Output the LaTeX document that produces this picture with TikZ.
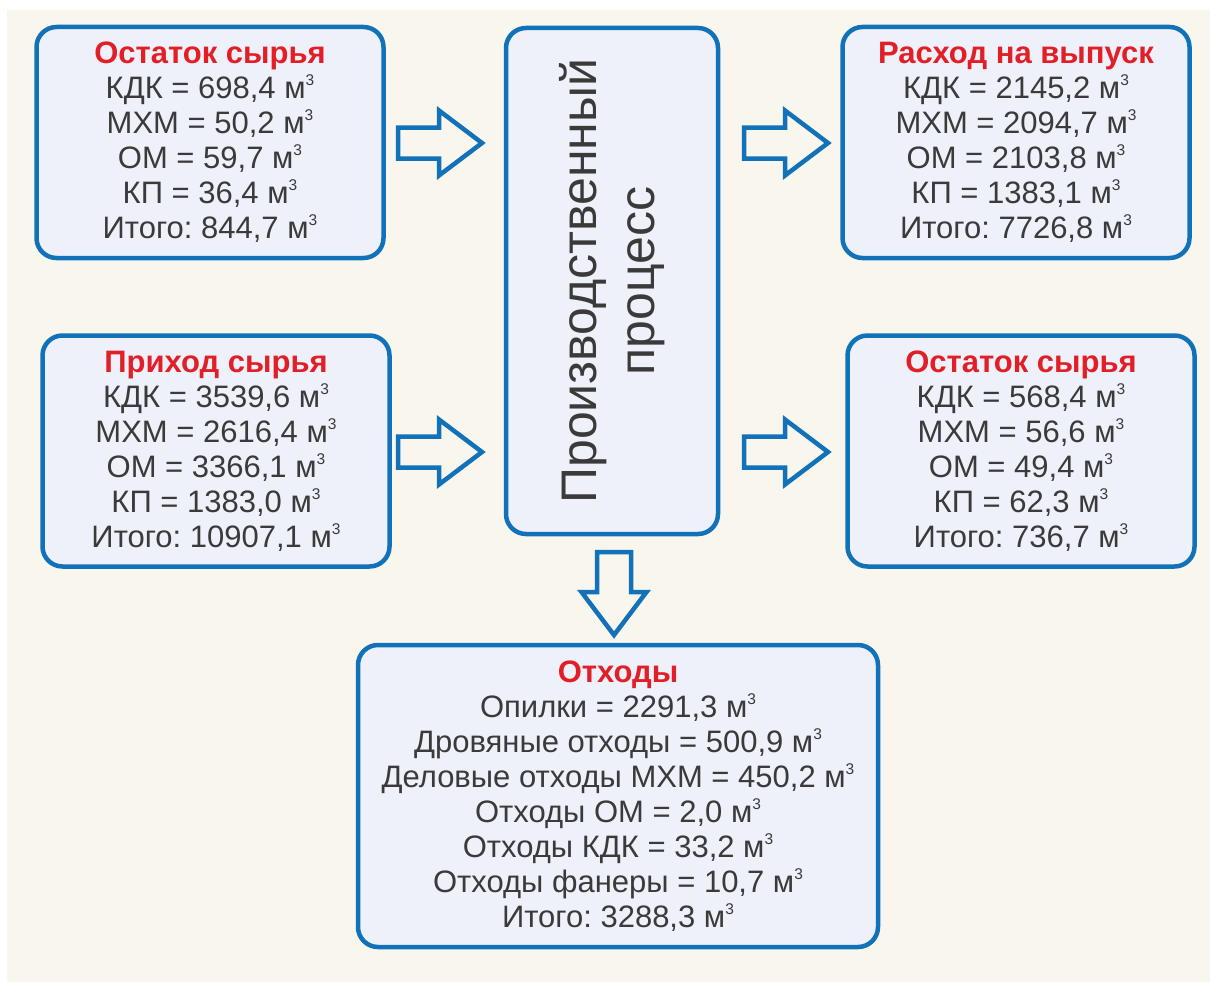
\documentclass[tikz,border=0pt]{standalone}
\usepackage{fontspec}
\setmainfont{Liberation Sans}
\definecolor{bgc}{RGB}{249,246,237}
\definecolor{boxfill}{RGB}{238,241,250}
\definecolor{myblue}{RGB}{17,114,186}
\definecolor{txt}{RGB}{58,58,58}
\definecolor{ttl}{RGB}{226,30,38}
\newcommand{\mcube}{м\raisebox{13pt}{\fontsize{15.5}{15.5}\selectfont 3}}
\newcommand{\ttlline}[1]{{\color{ttl}\bfseries #1}}
\frenchspacing
\tikzset{
  box/.style={draw=myblue, line width=4.5pt, fill=boxfill, rounded corners=20pt,
    minimum width=347pt, minimum height=231pt, inner sep=0pt, align=center,
    text=txt, font=\fontsize{31}{35}\selectfont},
  blockarrow/.style={draw=myblue, line width=4.5pt, fill=bgc, line join=miter},
  rarrow/.pic={\path[blockarrow] (-42,-15.5) -- (-1,-15.5) -- (-1,-32.5) -- (42,0)
     -- (-1,32.5) -- (-1,15.5) -- (-42,15.5) -- cycle;},
  darrow/.pic={\path[blockarrow] (-17,-41) -- (17,-41) -- (17,-1) -- (32.5,-1)
     -- (0,42) -- (-32.5,-1) -- (-17,-1) -- cycle;},
}
\begin{document}
\begin{tikzpicture}[x=1pt,y=-1pt]
\useasboundingbox (0,0) rectangle (1210,982);
\fill[white] (0,0) rectangle (1210,982);
\fill[bgc] (7,10) rectangle (1210,982);

\node[box] (ost1) at (210,142.5) {\ttlline{Остаток сырья}\\
  КДК = 698,4 \mcube\\ МХМ = 50,2 \mcube\\ ОМ = 59,7 \mcube\\ КП = 36,4 \mcube\\ Итого: 844,7 \mcube};
\node[box] (prih) at (216,451) {\ttlline{Приход сырья}\\
  КДК = 3539,6 \mcube\\ МХМ = 2616,4 \mcube\\ ОМ = 3366,1 \mcube\\ КП = 1383,0 \mcube\\ Итого: 10907,1 \mcube};
\node[box] (rash) at (1016,142.5) {\ttlline{Расход на выпуск}\\
  КДК = 2145,2 \mcube\\ МХМ = 2094,7 \mcube\\ ОМ = 2103,8 \mcube\\ КП = 1383,1 \mcube\\ Итого: 7726,8 \mcube};
\node[box] (ost2) at (1021,451) {\ttlline{Остаток сырья}\\
  КДК = 568,4 \mcube\\ МХМ = 56,6 \mcube\\ ОМ = 49,4 \mcube\\ КП = 62,3 \mcube\\ Итого: 736,7 \mcube};
\node[box, minimum width=212pt, minimum height=506pt] (proc) at (612,281) {};
\node[rotate=90, align=center, text=txt, font=\fontsize{50}{58}\selectfont] (proct) at (proc.center)
  {Производственный\\процесс};
\node[box, minimum width=520pt, minimum height=302pt] (waste) at (618,796) {\ttlline{Отходы}\\
  Опилки = 2291,3 \mcube\\ Дровяные отходы = 500,9 \mcube\\ Деловые отходы МХМ = 450,2 \mcube\\
  Отходы ОМ = 2,0 \mcube\\ Отходы КДК = 33,2 \mcube\\ Отходы фанеры = 10,7 \mcube\\ Итого: 3288,3 \mcube};

\pic (a1) at (440,143) {rarrow};
\pic (a2) at (440,452) {rarrow};
\pic (a3) at (786,143) {rarrow};
\pic (a4) at (786,452) {rarrow};
\pic (a5) at (614,593) {darrow};
\end{tikzpicture}
\end{document}
